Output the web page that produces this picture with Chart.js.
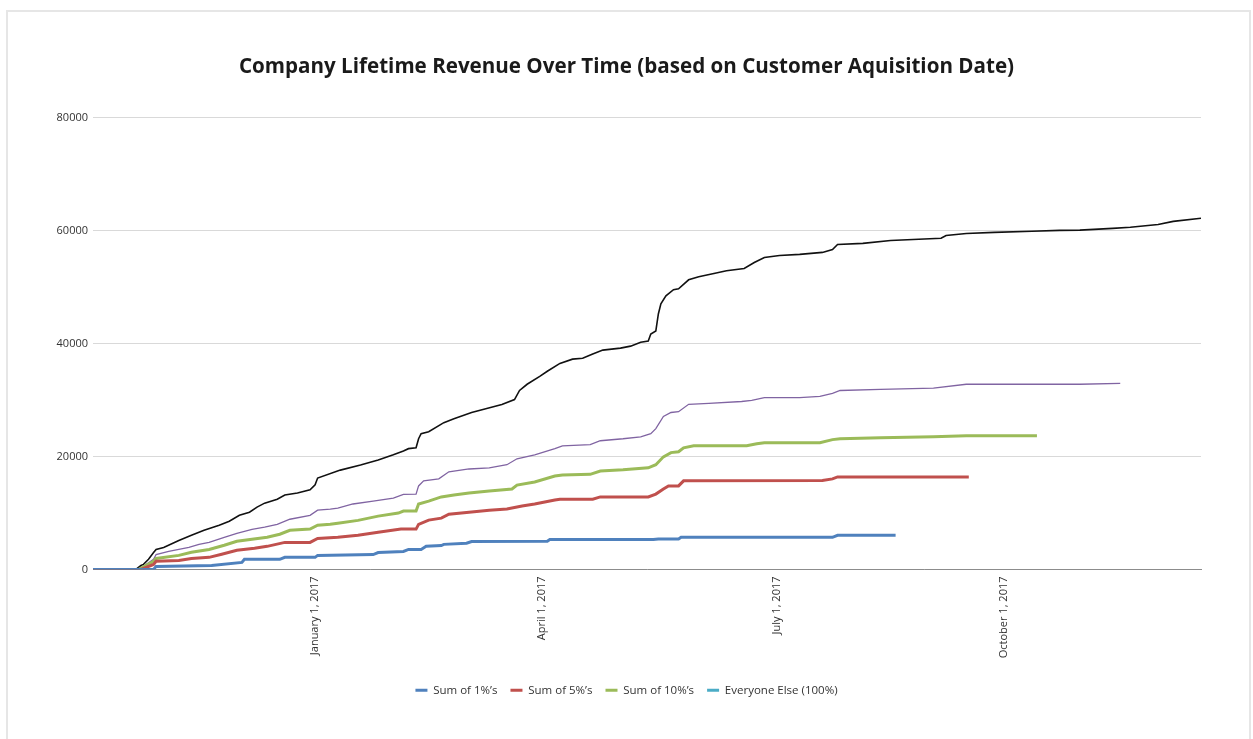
<!DOCTYPE html>
<html>
<head>
<meta charset="utf-8">
<title>Company Lifetime Revenue Over Time</title>
<script src="https://cdn.jsdelivr.net/npm/chart.js@4.4.1/dist/chart.umd.min.js"></script>
<style>
  html, body { margin: 0; padding: 0; background: #fff; overflow: hidden; }
  .card { position: absolute; left: 6px; top: 10px; width: 1245px; height: 780px; border: 2px solid #e6e6e6; box-sizing: border-box; }
  .wrap { position: absolute; left: 0; top: 0; width: 1253px; height: 739px; }
</style>
</head>
<body>
<div class="card"></div>
<div class="wrap"><canvas id="revenueChart"></canvas></div>
<script>
// x values are days counted from January 1, 2017 (acquisition date)
const axisStartDay = -88;
const axisEndDay = 351;

const quarterDays = [0, 90, 183, 273];
const quarterLabels = ['January 1, 2017', 'April 1, 2017', 'July 1, 2017', 'October 1, 2017'];
const revenueTicks = [0, 20000, 40000, 60000, 80000];

// all customers (running total)
const totalDays = [-88,-71,-69,-68,-66,-64,-63,-60,-54,-49,-44,-38,-34,-30,-26,-23,-20,-15,-12,-7,-2,0,1,10,18,25,31,35,37,40,41,42,45,51,55,62,68,74,79,81,84,89,92,97,102,106,110,114,121,125,129,132,133,135,136,137,139,142,144,148,152,158,163,170,174,178,184,192,201,205,207,217,228,248,250,258,269,284,295,303,316,323,334,340,351];
const totalRevenue = [0,0,700,900,1800,3000,3550,3900,5150,6050,6950,7850,8550,9600,10150,11050,11750,12450,13200,13550,14100,15000,16200,17600,18500,19400,20300,21000,21400,21550,23150,24050,24400,26000,26700,27800,28500,29200,30100,31700,32800,34200,35100,36500,37250,37400,38150,38850,39200,39550,40250,40450,41700,42250,45250,47050,48450,49550,49700,51300,51850,52400,52900,53300,54350,55250,55600,55800,56150,56650,57550,57750,58250,58650,59150,59500,59700,59900,60050,60100,60400,60600,61100,61650,62200];

// top quarter of customers
const top25Days = [-88,-70,-68,-64,-63,-58,-50,-46,-42,-36,-31,-25,-20,-15,-10,-2,1,6,9,15,23,31,35,40,41,43,49,53,61,69,76,80,87,95,98,109,113,122,129,133,135,138,141,144,148,156,169,173,178,192,200,205,208,224,245,258,303,319];
const top25Revenue = [0,0,550,1800,2650,3200,3900,4450,4800,5700,6400,7100,7500,8000,8900,9600,10500,10700,10850,11600,12100,12650,13300,13350,14800,15700,16050,17300,17800,18000,18550,19600,20300,21400,21900,22100,22800,23150,23500,24050,24950,27100,27800,27950,29250,29400,29750,29950,30450,30450,30650,31200,31700,31900,32100,32800,32800,32950];

const top10Days = [-88,-70,-64,-63,-54,-49,-42,-36,-31,-25,-19,-14,-10,-2,1,6,9,17,25,33,35,40,41,45,50,55,61,69,78,80,87,95,98,109,113,122,132,135,138,141,144,146,150,171,175,178,200,205,208,224,245,258,286];
const top10Revenue = [0,0,1450,1950,2500,3050,3550,4300,5000,5350,5700,6250,6950,7150,7850,8000,8200,8700,9450,10000,10350,10350,11600,12100,12850,13200,13550,13900,14250,14950,15500,16550,16750,16850,17450,17650,18000,18550,19950,20700,20850,21550,21900,21900,22250,22450,22450,23000,23150,23350,23500,23700,23700];

const top5Days = [-88,-69,-64,-63,-54,-49,-42,-37,-31,-24,-19,-12,-2,1,9,17,25,34,40,41,45,50,53,61,69,76,82,87,95,97,110,113,132,135,138,140,144,146,201,205,207,259];
const top5Revenue = [0,0,900,1450,1600,1950,2150,2700,3400,3750,4100,4800,4800,5500,5700,6050,6600,7150,7150,8000,8750,9100,9800,10150,10500,10700,11250,11600,12300,12450,12450,12850,12850,13350,14250,14800,14800,15700,15750,16050,16400,16400];

const top1Days = [-88,-64,-63,-41,-29,-28,-14,-12,0,1,23,25,35,37,42,44,50,51,60,62,92,93,134,136,144,145,205,207,230];
const top1Revenue = [0,0,550,700,1250,1800,1800,2150,2150,2500,2650,3000,3200,3550,3550,4100,4250,4450,4650,4950,5000,5300,5300,5400,5400,5700,5700,6050,6050];

const everyoneElseDays = [];
const everyoneElseRevenue = [];

const toPoints = (days, values) => days.map((d, i) => ({ x: d, y: values[i] }));

function series(label, days, values, color, width) {
  return {
    label,
    data: toPoints(days, values),
    borderColor: color,
    backgroundColor: color,
    borderWidth: width,
    pointRadius: 0,
    pointHoverRadius: 0,
    tension: 0,
    fill: false
  };
}

const baseFont = { family: "'Open Sans', sans-serif", size: 11 };

new Chart(document.getElementById('revenueChart'), {
  type: 'line',
  data: {
    datasets: [
      series("Sum of 1%\u2019s", top1Days, top1Revenue, '#4f81bd', 3),
      series("Sum of 5%\u2019s", top5Days, top5Revenue, '#c0504d', 3),
      series("Sum of 10%\u2019s", top10Days, top10Revenue, '#9bbb59', 3),
      series('Everyone Else (100%)', everyoneElseDays, everyoneElseRevenue, '#4bacc6', 3),
      series("Sum of 25%\u2019s", top25Days, top25Revenue, '#8064a2', 1.3),
      series('All Customers', totalDays, totalRevenue, '#111111', 1.6)
    ]
  },
  options: {
    responsive: true,
    maintainAspectRatio: false,
    animation: false,
    layout: { padding: { left: 0, right: 0, top: 0, bottom: 33 } },
    plugins: {
      tooltip: { enabled: false },
      title: {
        display: true,
        text: 'Company Lifetime Revenue Over Time (based on Customer Aquisition Date)',
        color: '#1a1a1a',
        font: { family: "'Open Sans', sans-serif", size: 20.6, weight: 'bold' },
        padding: { top: 55, bottom: 38 }
      },
      legend: {
        position: 'bottom',
        labels: {
          color: '#333',
          font: { family: "'Open Sans', sans-serif", size: 11.5 },
          boxWidth: 12,
          boxHeight: 3,
          padding: 13,
          filter: item => item.datasetIndex < 4,
          generateLabels: chart => Chart.defaults.plugins.legend.labels.generateLabels(chart)
            .map(item => Object.assign(item, { lineWidth: 0 }))
        }
      }
    },
    scales: {
      x: {
        type: 'linear',
        min: axisStartDay,
        max: axisEndDay,
        afterBuildTicks: scale => { scale.ticks = quarterDays.map(v => ({ value: v })); },
        afterFit: scale => { scale.height = 102; },
        grid: { display: false, drawTicks: false },
        border: { display: true, color: '#8c8c8c', width: 1 },
        ticks: {
          autoSkip: false,
          minRotation: 90,
          maxRotation: 90,
          padding: 7,
          color: '#333',
          font: baseFont,
          callback: value => quarterLabels[quarterDays.indexOf(value)]
        }
      },
      y: {
        min: 0,
        max: 80000,
        afterBuildTicks: scale => { scale.ticks = revenueTicks.map(v => ({ value: v })); },
        afterFit: scale => { scale.width = 93; },
        grid: { color: '#d9d9d9', drawTicks: false },
        border: { display: false },
        ticks: {
          padding: 5,
          color: '#333',
          font: baseFont,
          callback: value => String(value)
        }
      },
      // empty right-hand margin so the plot ends where the card's inner area does
      yRight: {
        position: 'right',
        afterFit: scale => { scale.width = 52; },
        grid: { display: false, drawTicks: false },
        border: { display: false },
        ticks: { display: false }
      }
    }
  }
});
</script>
</body>
</html>
